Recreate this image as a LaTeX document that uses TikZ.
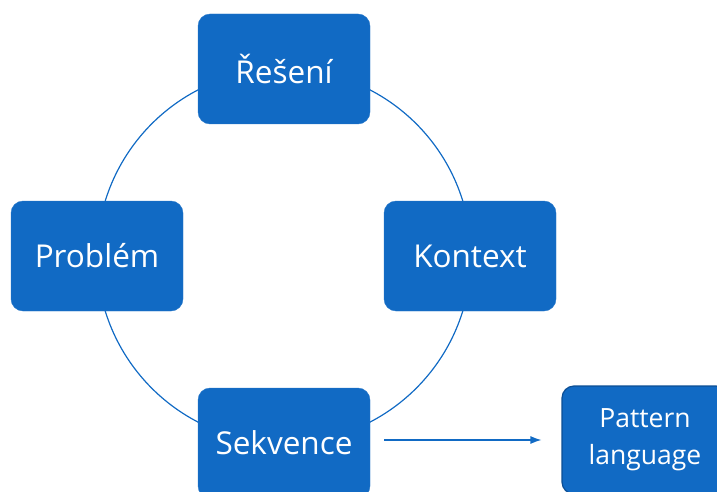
\documentclass[tikz,border=0pt]{standalone}
\usepackage{fontspec}
\setmainfont{Open Sans}
\usetikzlibrary{positioning, backgrounds, arrows.meta}
\definecolor{boxblue}{RGB}{17,106,196}
\definecolor{edgeblue}{RGB}{12,78,148}

\begin{document}
\begin{tikzpicture}[x=1pt,y=1pt,
        stepbox/.style={rectangle, rounded corners=12pt, fill=boxblue, draw=boxblue!90!white,
            text=white, minimum width=172pt, minimum height=110pt, font=\fontsize{31.5}{36}\selectfont},
        langbox/.style={stepbox, draw=edgeblue, line width=1.2pt, minimum width=166pt,
            minimum height=108pt, align=center, font=\fontsize{26.5}{32}\selectfont},
        ring/.style={draw=boxblue, line width=1.2pt},
        >={Latex[length=11pt,width=8pt]}]
    \useasboundingbox (0,0) rectangle (717,491);
    \coordinate (c) at (284,235);
    % the four steps round the ring
    \node[stepbox] (reseni) at (284,422) {Řešení};
    \node[stepbox] (problem) at (97,235) {Problém};
    \node[stepbox] (kontext) at (470,235) {Kontext};
    \node[stepbox] (sekvence) at (284,48) {Sekvence};
    \node[langbox] (pattern) at (645,51) {Pattern\\[5pt]language};

    \begin{scope}[on background layer]
        \draw[ring] (c) circle (187pt);
    \end{scope}
    \draw[ring, ->, shorten <=14pt, shorten >=20pt] (sekvence.east |- pattern.west) -- (pattern.west);
\end{tikzpicture}
\end{document}
